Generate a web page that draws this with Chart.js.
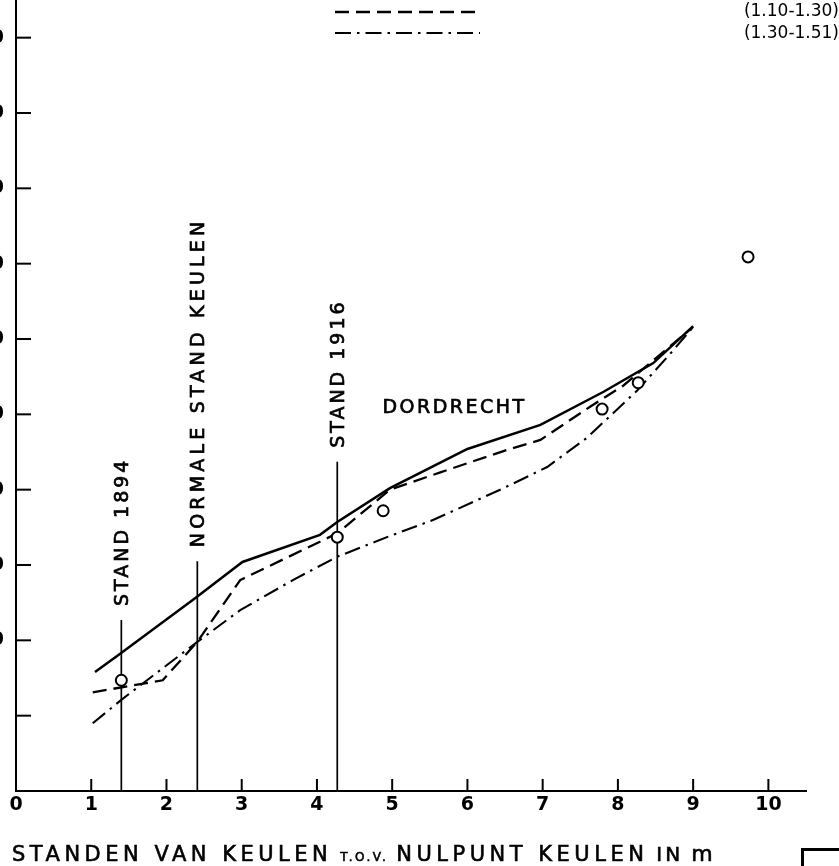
<!DOCTYPE html>
<html><head><meta charset="utf-8">
<script src="https://cdn.jsdelivr.net/npm/chart.js@4/dist/chart.umd.min.js"></script>
<style>
html,body{margin:0;padding:0;background:#fff;}
#wrap{position:relative;width:839px;height:866px;overflow:hidden;background:#fff;}
#c{position:absolute;left:-60px;top:0;}
#frame{position:absolute;left:801px;top:848px;width:60px;height:40px;border-top:3px solid #000;border-left:3px solid #000;}
</style></head><body>
<div id="wrap"><canvas id="c" width="899" height="866"></canvas><div id="frame"></div></div>
<script>
// ---- data (Keulen stand in m on x, Dordrecht on y) ----
const solidX  = [1.05, 1.38, 2.38, 3.01, 4.04, 4.27, 4.97, 6.00, 6.97, 7.81, 8.47, 9.00];
const solidY  = [1.58, 1.82, 2.56, 3.04, 3.40, 3.57, 4.02, 4.54, 4.86, 5.30, 5.68, 6.17];
const dashX   = [1.02, 1.95, 2.41, 2.98, 4.27, 4.97, 5.64, 6.53, 6.97, 7.63, 8.07, 9.00];
const dashY   = [1.31, 1.47, 1.98, 2.80, 3.42, 4.00, 4.23, 4.53, 4.66, 5.10, 5.38, 6.16];
const dotX    = [1.02, 1.40, 2.41, 2.98, 3.68, 4.27, 4.93, 5.55, 6.48, 7.06, 7.59, 8.26, 8.70, 9.00];
const dotY    = [0.90, 1.21, 1.98, 2.40, 2.80, 3.11, 3.37, 3.60, 4.02, 4.30, 4.69, 5.32, 5.81, 6.16];
const obsX    = [1.40, 4.27, 4.88, 7.79, 8.27, 9.73];
const obsY    = [1.47, 3.37, 3.72, 5.07, 5.42, 7.09];
const legendLabels = ['(1.10-1.30)', '(1.30-1.51)'];
const vlineX     = [1.40, 2.41, 4.27];
const vlineTop   = [2.27, 3.05, 4.37];
const vlineNames = ['STAND 1894', 'NORMALE STAND KEULEN', 'STAND 1916'];
const placeName  = 'DORDRECHT';
const placeAt    = [4.87, 5.06];
const xTickLabels = ['0','1','2','3','4','5','6','7','8','9','10'];
const yTickLabels = ['', '', '20','30','40','50','60','70','80','90','100'];
const xTitleParts = ['STANDEN VAN KEULEN', 'T.O.V.', 'NULPUNT KEULEN', 'IN', 'm'];

const SHIFT = 60;
const FONT = '"DejaVu Sans", sans-serif';
const pts = (xs, ys) => xs.map((v, i) => ({x: v, y: ys[i]}));

const datasets = [];
vlineX.forEach((vx, i) => datasets.push({
  data: [{x: vx, y: 0}, {x: vx, y: vlineTop[i]}],
  showLine: true, borderColor: '#000', borderWidth: 1.7, pointRadius: 0, order: 5
}));
datasets.push({data: pts(solidX, solidY), showLine: true, borderColor: '#000', borderWidth: 2.5, pointRadius: 0, order: 3});
datasets.push({label: legendLabels[0], data: pts(dashX, dashY), showLine: true, borderColor: '#000', borderWidth: 2.3, borderDash: [14, 7], pointRadius: 0, order: 3});
datasets.push({label: legendLabels[1], data: pts(dotX, dotY), showLine: true, borderColor: '#000', borderWidth: 2.1, borderDash: [16, 6, 2.5, 6], pointRadius: 0, order: 3});
datasets.push({data: pts(obsX, obsY), showLine: false, pointRadius: 5.5, pointBorderWidth: 2,
  pointBorderColor: '#000', pointBackgroundColor: '#fff', order: 1});

function spacedText(ctx, text, x, y, ls, bold) {
  ctx.letterSpacing = ls + 'px';
  ctx.fillText(text, x, y);
  if (bold) { ctx.lineWidth = bold; ctx.strokeText(text, x, y); }
  const w = ctx.measureText(text).width;
  ctx.letterSpacing = '0px';
  return w;
}

const decor = {
  id: 'decor',
  afterDraw(chart) {
    const {ctx, chartArea: a, scales: {x, y}} = chart;
    ctx.save();
    ctx.strokeStyle = '#000'; ctx.fillStyle = '#000'; ctx.lineWidth = 2;
    // inward tick marks
    y.ticks.forEach(t => { if (t.value <= 0) return; const py = y.getPixelForValue(t.value);
      ctx.beginPath(); ctx.moveTo(a.left, py); ctx.lineTo(a.left + 15, py); ctx.stroke(); });
    x.ticks.forEach(t => { if (t.value <= 0) return; const px = x.getPixelForValue(t.value);
      ctx.beginPath(); ctx.moveTo(px, a.bottom); ctx.lineTo(px, a.bottom - 12); ctx.stroke(); });
    // vertical labels
    const vls = [3, 4.2, 3];
    ctx.font = '19px ' + FONT; ctx.textAlign = 'left'; ctx.textBaseline = 'alphabetic';
    vlineX.forEach((vx, i) => {
      const px = x.getPixelForValue(vx), py = y.getPixelForValue(vlineTop[i]) - 14;
      ctx.save(); ctx.translate(px + 7, py); ctx.rotate(-Math.PI / 2);
      spacedText(ctx, vlineNames[i], 0, 0, vls[i], 0.7); ctx.restore();
    });
    // place label
    ctx.font = '19px ' + FONT;
    spacedText(ctx, placeName, x.getPixelForValue(placeAt[0]), y.getPixelForValue(placeAt[1]) + 3, 2.5, 0.7);
    // legend
    const dsL = [chart.data.datasets[4], chart.data.datasets[5]];
    dsL.forEach((ds, i) => {
      const ly = a.top + 12 + i * 21;
      ctx.save(); ctx.lineWidth = ds.borderWidth; ctx.setLineDash(ds.borderDash);
      ctx.beginPath(); ctx.moveTo(a.left + 319, ly); ctx.lineTo(a.left + 464, ly); ctx.stroke(); ctx.restore();
      ctx.font = '17px ' + FONT; ctx.textAlign = 'right'; ctx.textBaseline = 'middle';
      ctx.fillText(ds.label, a.right + 33, ly + i);
    });
    // x axis title
    ctx.textAlign = 'left'; ctx.textBaseline = 'alphabetic';
    const sizes = [21, 12, 21, 20, 22], ls = [4.5, 2.5, 4.5, 3, 2];
    let tx = a.left - 4; const ty = a.bottom + 70;
    xTitleParts.forEach((t, i) => {
      ctx.font = sizes[i] + 'px ' + FONT;
      tx += spacedText(ctx, t, tx, ty, ls[i], 0.6) + 8;
    });
    ctx.restore();
  }
};

new Chart(document.getElementById('c'), {
  type: 'scatter',
  data: {datasets},
  options: {
    responsive: false, animation: false, devicePixelRatio: 1,
    layout: {autoPadding: false, padding: {left: 0, top: 0, bottom: 0, right: 899 - (SHIFT + 806)}},
    plugins: {legend: {display: false}, tooltip: {enabled: false}},
    scales: {
      x: {type: 'linear', min: 0, max: 10.5,
        grid: {display: false, drawTicks: false}, border: {display: true, color: '#000', width: 2},
        ticks: {stepSize: 1, includeBounds: false, color: '#000', padding: 3,
          font: {family: FONT, size: 19, weight: 'bold'},
          maxRotation: 0, callback: v => xTickLabels[v] ?? ''},
        afterFit: s => { s.height = 75; s.paddingLeft = 0; s.paddingRight = 0; }},
      y: {type: 'linear', min: 0, max: 10.5,
        grid: {display: false, drawTicks: false}, border: {display: true, color: '#000', width: 2},
        ticks: {stepSize: 1, includeBounds: false, color: '#000', padding: 12,
          font: {family: FONT, size: 19, weight: 'bold'},
          callback: v => yTickLabels[v] ?? ''},
        afterFit: s => { s.width = SHIFT + 16; s.paddingTop = 0; s.paddingBottom = 0; }}
    }
  },
  plugins: [decor]
});
</script>
</body></html>
